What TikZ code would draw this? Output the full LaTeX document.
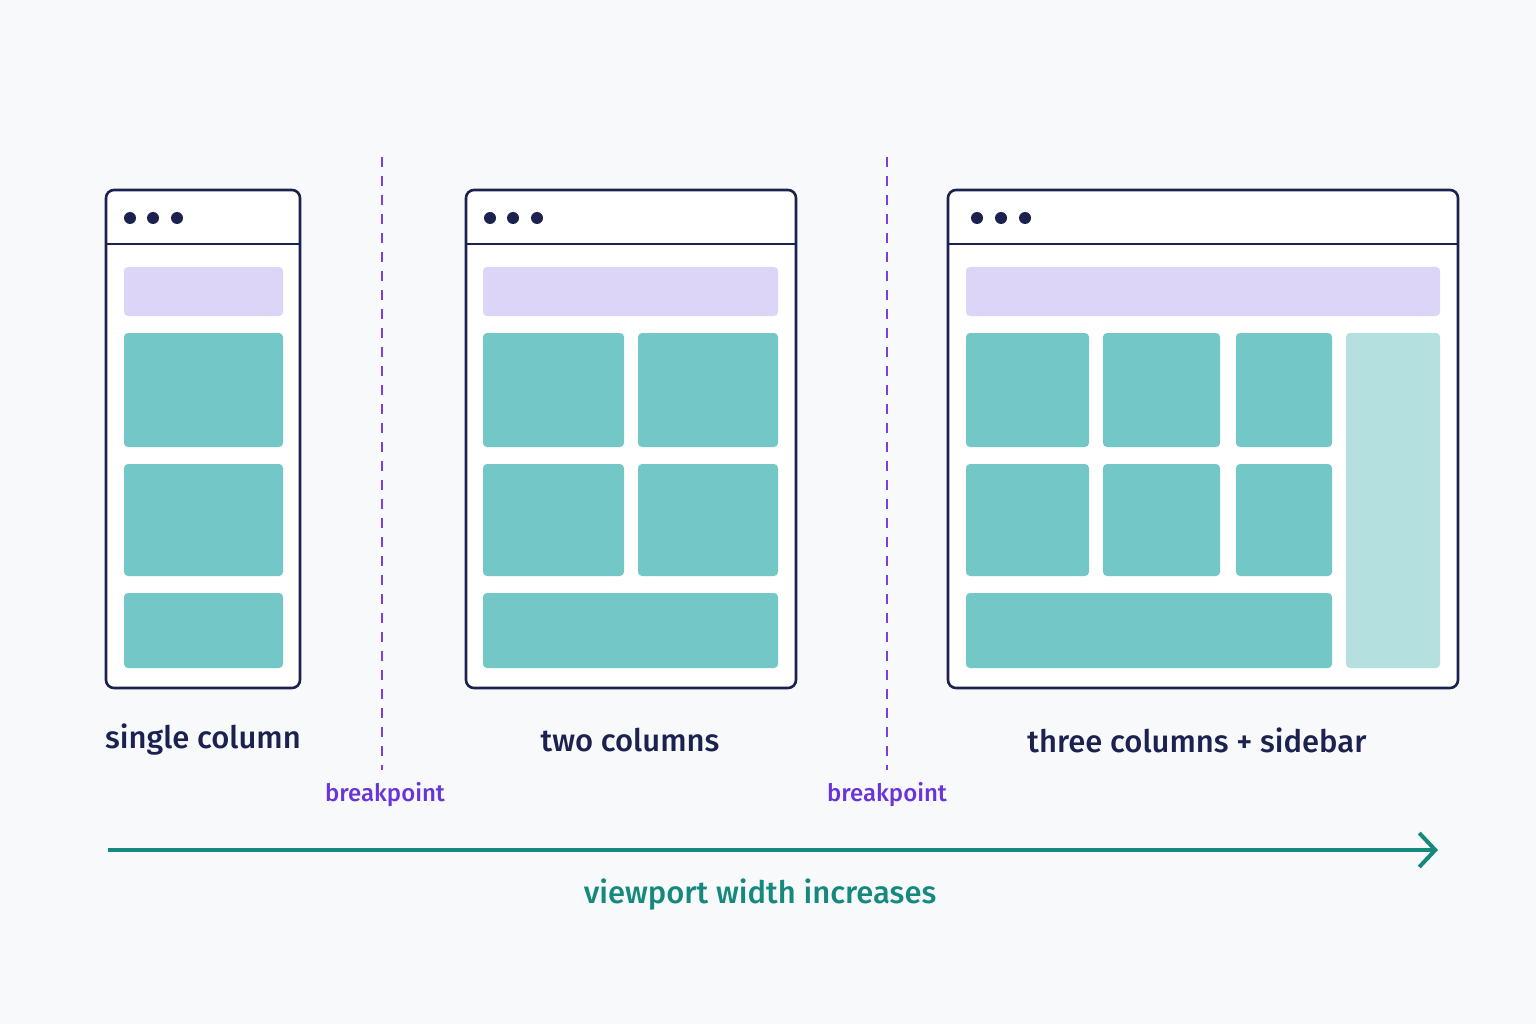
\documentclass[tikz,border=0pt]{standalone}
\usepackage{fontspec}
\setmainfont{Fira Sans Medium}
\usetikzlibrary{arrows.meta}
\definecolor{navy}{HTML}{1B2250}
\definecolor{lav}{HTML}{DCD5F7}
\definecolor{teal1}{HTML}{74C7C7}
\definecolor{teal2}{HTML}{B5E0E0}
\definecolor{purp}{HTML}{7B3FE0}
\definecolor{purpt}{HTML}{6A35D8}
\definecolor{arr}{HTML}{16897F}
\definecolor{bg}{HTML}{F8F9FB}
\begin{document}
\begin{tikzpicture}[x=1pt,y=-1pt,
 win/.style={draw=navy,line width=2.6pt,fill=white,rounded corners=8pt},
 hb/.style={fill=lav,rounded corners=4pt},
 tb/.style={fill=teal1,rounded corners=4pt},
 sb/.style={fill=teal2,rounded corners=4pt},
 dot/.style={circle,fill=navy,inner sep=0pt,minimum size=12pt},
 brk/.style={draw=purp,line width=2.6pt,dash pattern=on 10pt off 9pt},
 lab/.style={text=navy,font=\fontsize{31}{36}\selectfont},
 bl/.style={text=purpt,font=\fontsize{24}{28}\selectfont}]
\fill[bg] (0,0) rectangle (1536,1024);
\useasboundingbox (0,0) rectangle (1536,1024);
% window 1
\draw[win] (106,190) rectangle (300,688);
\draw[navy,line width=2.6pt] (106,244) -- (300,244);
\foreach \x/\n in {130/a,153/b,177/c} \node[dot] (d1\n) at (\x,218) {};
\fill[hb] (124,267) rectangle (283,316);
\fill[tb] (124,333) rectangle (283,447);
\fill[tb] (124,464) rectangle (283,576);
\fill[tb] (124,593) rectangle (283,668);
% window 2
\draw[win] (466,190) rectangle (796,688);
\draw[navy,line width=2.6pt] (466,244) -- (796,244);
\foreach \x/\n in {490/a,513/b,537/c} \node[dot] (d2\n) at (\x,218) {};
\fill[hb] (483,267) rectangle (778,316);
\fill[tb] (483,333) rectangle (624,447);
\fill[tb] (638,333) rectangle (778,447);
\fill[tb] (483,464) rectangle (624,576);
\fill[tb] (638,464) rectangle (778,576);
\fill[tb] (483,593) rectangle (778,668);
% window 3
\draw[win] (948,190) rectangle (1458,688);
\draw[navy,line width=2.6pt] (948,244) -- (1458,244);
\foreach \x/\n in {977/a,1001/b,1025/c} \node[dot] (d3\n) at (\x,218) {};
\fill[hb] (966,267) rectangle (1440,316);
\foreach \a/\b in {966/1089,1103/1220,1236/1332}{
 \fill[tb] (\a,333) rectangle (\b,447);
 \fill[tb] (\a,464) rectangle (\b,576);}
\fill[tb] (966,593) rectangle (1332,668);
\fill[sb] (1346,333) rectangle (1440,668);
% breakpoints
\coordinate (b1t) at (382,157); \coordinate (b1b) at (382,770);
\coordinate (b2t) at (887,157); \coordinate (b2b) at (887,770);
\draw[brk] (b1t) -- (b1b);
\draw[brk] (b2t) -- (b2b);
\node[bl] (bl1) at (385,795) {breakpoint};
\node[bl] (bl2) at (887,795) {breakpoint};
% labels
\node[lab] (l1) at (203,740) {single column};
\node[lab] (l2) at (630,740) {two columns};
\node[lab] (l3) at (1197,740) {three columns + sidebar};
% arrow
\coordinate (a1) at (108,850); \coordinate (a2) at (1438,850);
\draw[arr,line width=4pt,-{Straight Barb[length=16pt,width=34pt,line width=4pt]}] (a1) -- (a2);
\node[text=arr,font=\fontsize{31}{36}\selectfont] (vw) at (760,895) {viewport width increases};
\end{tikzpicture}
\end{document}
